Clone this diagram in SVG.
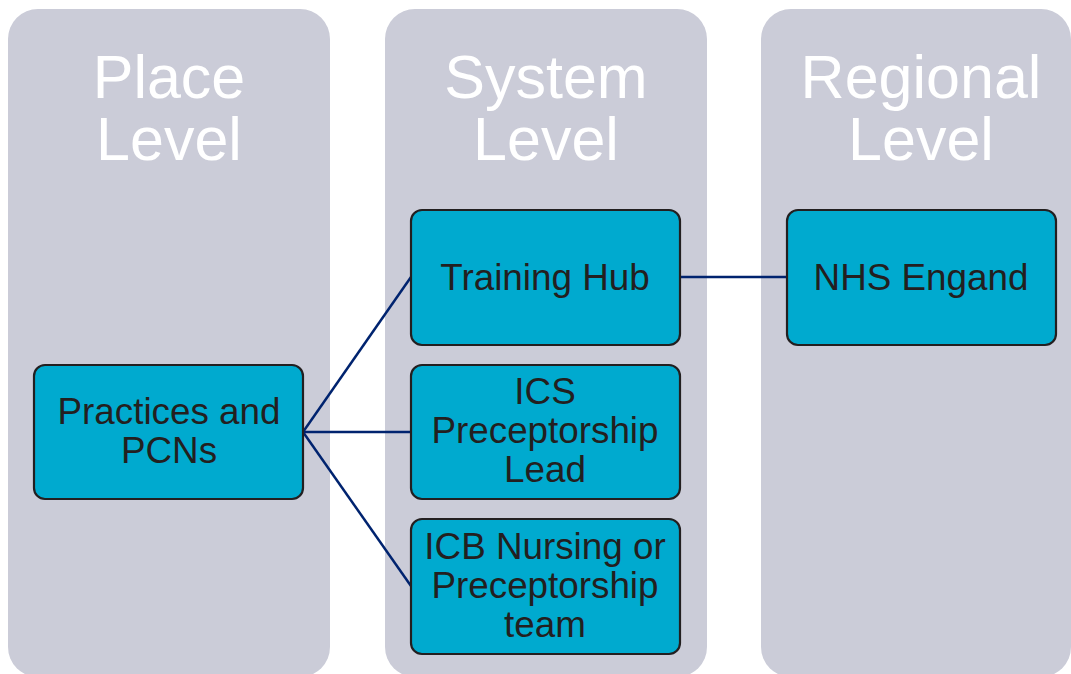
<svg xmlns="http://www.w3.org/2000/svg" width="1071" height="674" viewBox="0 0 1071 674">
  <defs>
    <style>
      .col { fill: #cbccd8; }
      .head { font-family: "Liberation Sans", Arial, sans-serif; font-size: 61px; fill: #ffffff; text-anchor: middle; }
      .box { fill: #00aacf; stroke: #231f20; stroke-width: 2.2; }
      .lbl { font-family: "Liberation Sans", Arial, sans-serif; font-size: 36.8px; fill: #231f20; text-anchor: middle; }
      .link { stroke: #00236f; stroke-width: 2.5; fill: none; }
    </style>
  </defs>
  <rect width="1071" height="674" fill="#ffffff"/>

  <!-- level columns -->
  <g id="place-level">
    <rect class="col" x="8" y="9" width="322" height="668" rx="30"/>
    <text class="head" x="169" y="98">Place</text>
    <text class="head" x="169" y="160">Level</text>
  </g>
  <g id="system-level">
    <rect class="col" x="385" y="9" width="322" height="668" rx="30"/>
    <text class="head" x="546" y="98">System</text>
    <text class="head" x="546" y="160">Level</text>
  </g>
  <g id="regional-level">
    <rect class="col" x="761" y="9" width="310" height="668" rx="30"/>
    <text class="head" x="921" y="98">Regional</text>
    <text class="head" x="921" y="160">Level</text>
  </g>

  <!-- connectors -->
  <g id="connectors">
    <line class="link" x1="303" y1="432" x2="411" y2="277"/>
    <line class="link" x1="303" y1="432" x2="411" y2="432"/>
    <line class="link" x1="303" y1="432" x2="411" y2="586"/>
    <line class="link" x1="680" y1="277" x2="787" y2="277"/>
  </g>

  <!-- nodes -->
  <g id="practices">
    <rect class="box" x="34" y="365" width="269" height="134" rx="11"/>
    <text class="lbl" x="169" y="424">Practices and</text>
    <text class="lbl" x="169" y="463">PCNs</text>
  </g>
  <g id="training-hub">
    <rect class="box" x="411" y="210" width="269" height="135" rx="11"/>
    <text class="lbl" x="545" y="290">Training Hub</text>
  </g>
  <g id="ics-lead">
    <rect class="box" x="411" y="365" width="269" height="134" rx="11"/>
    <text class="lbl" x="545" y="404">ICS</text>
    <text class="lbl" x="545" y="443">Preceptorship</text>
    <text class="lbl" x="545" y="482">Lead</text>
  </g>
  <g id="icb-team">
    <rect class="box" x="411" y="519" width="269" height="135" rx="11"/>
    <text class="lbl" x="545" y="559">ICB Nursing or</text>
    <text class="lbl" x="545" y="598">Preceptorship</text>
    <text class="lbl" x="545" y="637">team</text>
  </g>
  <g id="nhs-england">
    <rect class="box" x="787" y="210" width="269" height="135" rx="11"/>
    <text class="lbl" x="921" y="290">NHS Engand</text>
  </g>
</svg>
